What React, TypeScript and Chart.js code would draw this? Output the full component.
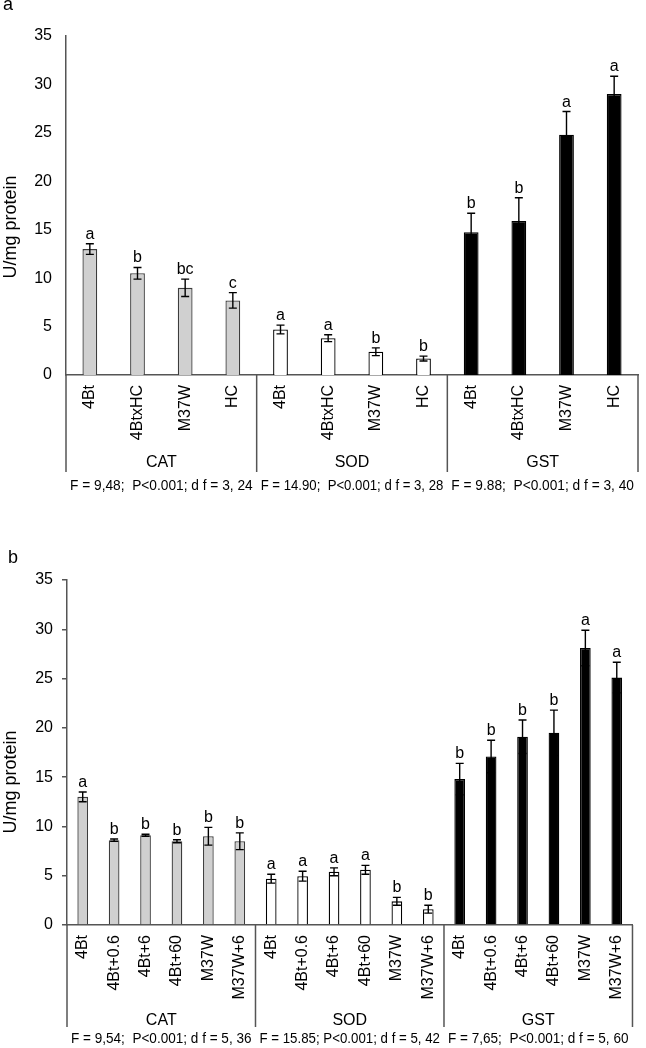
import React, { useEffect, useRef } from 'react';
import { Chart, registerables } from 'chart.js';
Chart.register(...registerables);

const FONT = "'Liberation Sans', Arial, sans-serif";

const enzymes = ['CAT', 'SOD', 'GST'];
const topLines = ['4Bt', '4BtxHC', 'M37W', 'HC'];
const bottomLines = ['4Bt', '4Bt+0.6', '4Bt+6', '4Bt+60', 'M37W', 'M37W+6'];

// Panel a
const topCAT = [13.0, 10.5, 9.0, 7.7];
const topCATErr = [0.55, 0.6, 0.9, 0.8];
const topCATLetters = ['a', 'b', 'bc', 'c'];
const topSOD = [4.7, 3.8, 2.4, 1.7];
const topSODErr = [0.45, 0.35, 0.4, 0.25];
const topSODLetters = ['a', 'a', 'b', 'b'];
const topGST = [14.75, 15.9, 24.8, 29.0];
const topGSTErr = [1.95, 2.4, 2.4, 1.85];
const topGSTLetters = ['b', 'b', 'a', 'a'];
const topStats = [
  'F = 9,48;  P<0.001; d f = 3, 24',
  'F = 14.90;  P<0.001; d f = 3, 28',
  'F = 9.88;  P<0.001; d f = 3, 40',
];

// Panel b
const bottomCAT = [13.0, 8.6, 9.1, 8.5, 9.0, 8.5];
const bottomCATErr = [0.5, 0.12, 0.1, 0.15, 0.9, 0.85];
const bottomCATLetters = ['a', 'b', 'b', 'b', 'b', 'b'];
const bottomSOD = [4.7, 4.95, 5.4, 5.6, 2.4, 1.6];
const bottomSODErr = [0.45, 0.5, 0.4, 0.45, 0.4, 0.4];
const bottomSODLetters = ['a', 'a', 'a', 'a', 'b', 'b'];
const bottomGST = [14.8, 17.1, 19.1, 19.5, 28.1, 25.1];
const bottomGSTErr = [1.6, 1.65, 1.7, 2.3, 1.8, 1.55];
const bottomGSTLetters = ['b', 'b', 'b', 'b', 'a', 'a'];
const bottomStats = [
  'F = 9,54;  P<0.001; d f = 5, 36',
  'F = 15.85; P<0.001; d f = 5, 42',
  'F = 7,65;  P<0.001; d f = 5, 60',
];

const yMin = 0;
const yMax = 35;
const yStep = 5;
const yTitle = 'U/mg protein';

const groupFill = ['#d0d0d0', '#ffffff', '#000000'];
const groupBorder = ['#3c3c3c', '#000000', '#000000'];
const axisColor = '#555555';

interface PanelSpec {
  panelLabel: string;
  lines: string[];
  values: number[][];
  errors: number[][];
  letters: string[][];
  stats: string[];
  canvasH: number;
  padTop: number;
  padRight: number;
  yWidth: number;
  xHeight: number;
  barPct: number;
  yTickLen: number;
  yLabelPad: number;
  titleX: number;
  titleY: number;
  labelX: number;
  labelY: number;
  sepBottom: number;
  groupY: number;
  statY: number;
}

const topSpec: PanelSpec = {
  panelLabel: 'a',
  lines: topLines,
  values: [topCAT, topSOD, topGST],
  errors: [topCATErr, topSODErr, topGSTErr],
  letters: [topCATLetters, topSODLetters, topGSTLetters],
  stats: topStats,
  canvasH: 500,
  padTop: 36,
  padRight: 8,
  yWidth: 66,
  xHeight: 125,
  barPct: 0.31,
  yTickLen: 0,
  yLabelPad: 14,
  titleX: 11,
  titleY: 227,
  labelX: 3,
  labelY: 10,
  sepBottom: 472,
  groupY: 463,
  statY: 486,
};

const bottomSpec: PanelSpec = {
  panelLabel: 'b',
  lines: bottomLines,
  values: [bottomCAT, bottomSOD, bottomGST],
  errors: [bottomCATErr, bottomSODErr, bottomGSTErr],
  letters: [bottomCATLetters, bottomSODLetters, bottomGSTLetters],
  stats: bottomStats,
  canvasH: 528,
  padTop: 60,
  padRight: 1,
  yWidth: 67,
  xHeight: 123,
  barPct: 0.34,
  yTickLen: 5,
  yLabelPad: 9,
  titleX: 11,
  titleY: 262,
  labelX: 8,
  labelY: 43,
  sepBottom: 507,
  groupY: 501,
  statY: 519,
};

function Panel({ spec, top }: { spec: PanelSpec; top: number }) {
  const ref = useRef<HTMLCanvasElement>(null);
  useEffect(() => {
    if (!ref.current) return;
    const n = spec.lines.length;
    const labels = enzymes.flatMap(() => spec.lines);
    const data = spec.values.flat();
    const errs = spec.errors.flat();
    const lets = spec.letters.flat();
    const bg = enzymes.flatMap((_, g) => spec.lines.map(() => groupFill[g]));
    const bd = enzymes.flatMap((_, g) => spec.lines.map(() => groupBorder[g]));

    const deco = {
      id: 'deco',
      afterDatasetsDraw(chart: any) {
        const { ctx } = chart;
        const xs = chart.scales.x;
        const ys = chart.scales.y;
        ctx.save();
        ctx.strokeStyle = '#000';
        ctx.lineWidth = 1.4;
        ctx.fillStyle = '#000';
        ctx.font = `16px ${FONT}`;
        ctx.textAlign = 'center';
        ctx.textBaseline = 'alphabetic';
        data.forEach((v, i) => {
          const x = xs.getPixelForValue(i);
          const yT = ys.getPixelForValue(v + errs[i]);
          const yB = ys.getPixelForValue(Math.max(0, v - errs[i]));
          ctx.beginPath();
          ctx.moveTo(x, yT);
          ctx.lineTo(x, yB);
          ctx.moveTo(x - 4, yT);
          ctx.lineTo(x + 4, yT);
          ctx.moveTo(x - 4, yB);
          ctx.lineTo(x + 4, yB);
          ctx.stroke();
          ctx.fillText(lets[i], x, yT - 5);
        });
        ctx.restore();
      },
      afterDraw(chart: any) {
        const { ctx, chartArea } = chart;
        const xs = chart.scales.x;
        const edges: number[] = [];
        for (let g = 0; g <= enzymes.length; g++) {
          if (g === 0) edges.push(chartArea.left);
          else if (g === enzymes.length) edges.push(chartArea.right);
          else edges.push((xs.getPixelForValue(g * n - 1) + xs.getPixelForValue(g * n)) / 2);
        }
        ctx.save();
        ctx.strokeStyle = axisColor;
        ctx.lineWidth = 1.5;
        edges.forEach((ex) => {
          ctx.beginPath();
          ctx.moveTo(ex, chartArea.bottom);
          ctx.lineTo(ex, spec.sepBottom);
          ctx.stroke();
        });
        ctx.fillStyle = '#000';
        ctx.textAlign = 'center';
        ctx.textBaseline = 'middle';
        enzymes.forEach((name, g) => {
          const cx = (edges[g] + edges[g + 1]) / 2;
          ctx.font = `16px ${FONT}`;
          ctx.fillText(name, cx, spec.groupY);
          ctx.font = `15px ${FONT}`;
          ctx.fillText(spec.stats[g], cx, spec.statY, edges[g + 1] - edges[g] - 8);
        });
        // y title
        ctx.save();
        ctx.translate(spec.titleX, spec.titleY);
        ctx.rotate(-Math.PI / 2);
        ctx.font = `18px ${FONT}`;
        ctx.fillText(yTitle, 0, 0);
        ctx.restore();
        // panel label
        ctx.textAlign = 'left';
        ctx.textBaseline = 'alphabetic';
        ctx.font = `18px ${FONT}`;
        ctx.fillText(spec.panelLabel, spec.labelX, spec.labelY);
        ctx.restore();
      },
    };

    const chart = new Chart(ref.current, {
      type: 'bar',
      data: {
        labels,
        datasets: [
          {
            data,
            backgroundColor: bg,
            borderColor: bd,
            borderWidth: 1.3,
            barPercentage: spec.barPct,
            categoryPercentage: 1,
          },
        ],
      },
      options: {
        animation: false,
        responsive: false,
        maintainAspectRatio: false,
        devicePixelRatio: 1,
        layout: { padding: { left: 0, right: spec.padRight, top: spec.padTop, bottom: 0 } },
        plugins: { legend: { display: false }, tooltip: { enabled: false }, title: { display: false } },
        scales: {
          x: {
            type: 'category',
            offset: true,
            grid: { display: false, drawTicks: false },
            border: { display: true, color: axisColor, width: 1.5 },
            ticks: {
              autoSkip: false,
              minRotation: 90,
              maxRotation: 90,
              padding: 10,
              color: '#000',
              font: { family: FONT, size: 16 },
            },
            afterFit: (s: any) => {
              s.height = spec.xHeight;
            },
          },
          y: {
            min: yMin,
            max: yMax,
            grid: {
              display: spec.yTickLen > 0,
              drawOnChartArea: false,
              drawTicks: spec.yTickLen > 0,
              tickLength: spec.yTickLen,
              color: axisColor,
              lineWidth: 1.5,
            },
            border: { display: true, color: axisColor, width: 1.5 },
            ticks: {
              stepSize: yStep,
              padding: spec.yLabelPad,
              color: '#000',
              font: { family: FONT, size: 16 },
            },
            afterFit: (s: any) => {
              s.width = spec.yWidth;
            },
          },
        },
      },
      plugins: [deco],
    } as any);
    return () => chart.destroy();
  }, [spec]);
  return (
    <canvas
      ref={ref}
      width={646}
      height={spec.canvasH}
      style={{ position: 'absolute', left: 0, top, width: 646, height: spec.canvasH }}
    />
  );
}

export default function App() {
  return (
    <div style={{ position: 'absolute', left: 0, top: 0, width: 646, height: 1048, background: '#fff' }}>
      <Panel spec={topSpec} top={0} />
      <Panel spec={bottomSpec} top={520} />
    </div>
  );
}
